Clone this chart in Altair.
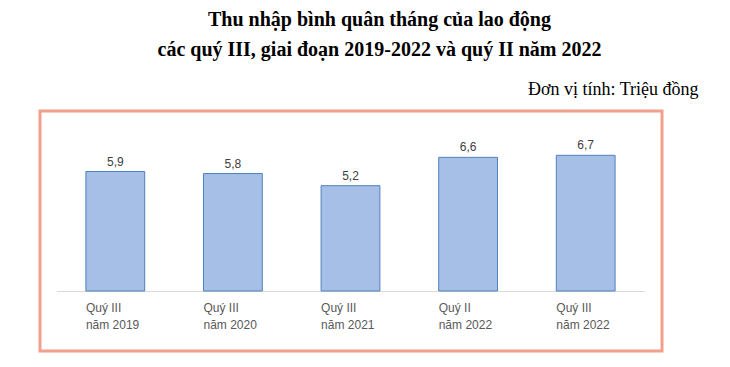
import altair as alt
import pandas as pd

title_lines = ["Thu nhập bình quân tháng của lao động",
               "các quý III, giai đoạn 2019-2022 và quý II năm 2022"]
unit_text = "Đơn vị tính: Triệu đồng"

quarter_labels = ["Quý III", "Quý III", "Quý III", "Quý II", "Quý III"]
year_labels = ["năm 2019", "năm 2020", "năm 2021", "năm 2022", "năm 2022"]
values = [5.9, 5.8, 5.2, 6.6, 6.7]

cats = [q + "|" + y for q, y in zip(quarter_labels, year_labels)]
df = pd.DataFrame({"cat": cats, "value": values})
df["label"] = [f"{v:.1f}".replace(".", ",") for v in values]

W, H = 588, 162
bw = 58.8

x = alt.X("cat:N", sort=cats, title=None,
          scale=alt.Scale(paddingInner=0.5, paddingOuter=0.25),
          axis=alt.Axis(labelExpr="split(datum.label, '|')", labelAngle=0,
                        labelAlign="left", labelOffset=-bw / 2, labelPadding=11,
                        labelBaseline="top", labelFont="Liberation Sans",
                        labelFontSize=12, labelColor="#595959", labelLineHeight=17,
                        ticks=False, domainColor="#D9D9D9", domainWidth=1, grid=False))
y = alt.Y("value:Q", scale=alt.Scale(domain=[0, 8]),
          axis=alt.Axis(orient="right", title=unit_text, labels=False, ticks=False,
                        domain=False, grid=False, titleAngle=0, titleAlign="right",
                        titleBaseline="alphabetic", titleX=53.5, titleY=-35,
                        titleFont="Liberation Serif", titleFontSize=18,
                        titleFontWeight="normal", titleColor="#000000"))

base = alt.Chart(df)
bars = base.mark_bar(fill="#A6BFE6", stroke="#4F81BD", strokeWidth=1).encode(x=x, y=y)
texts = base.mark_text(font="Liberation Sans", fontSize=12, color="#404040",
                       baseline="bottom", dy=-3).encode(x=alt.X("cat:N", sort=cats),
                                                        y="value:Q", text="label:N")
border = alt.Chart(alt.Data(values=[{"a": 1}])).mark_rect(
    fillOpacity=0, stroke="#F0A08C", strokeWidth=3
).encode(x=alt.value(-16.5), x2=alt.value(605.5), y=alt.value(-18), y2=alt.value(222))

chart = alt.layer(bars, texts, border).properties(
    width=W, height=H,
    autosize=alt.AutoSizeParams(type="none"),
    padding={"left": 48.5, "top": 121, "right": 77.5, "bottom": 68},
    title=alt.TitleParams(text=title_lines, font="Liberation Serif", fontSize=20,
                          fontWeight="bold", color="#000000", anchor="middle",
                          dx=29, offset=20, lineHeight=30),
).configure_view(stroke=None)

chart.save("out.html", embed_options={"renderer": "svg", "actions": False})
